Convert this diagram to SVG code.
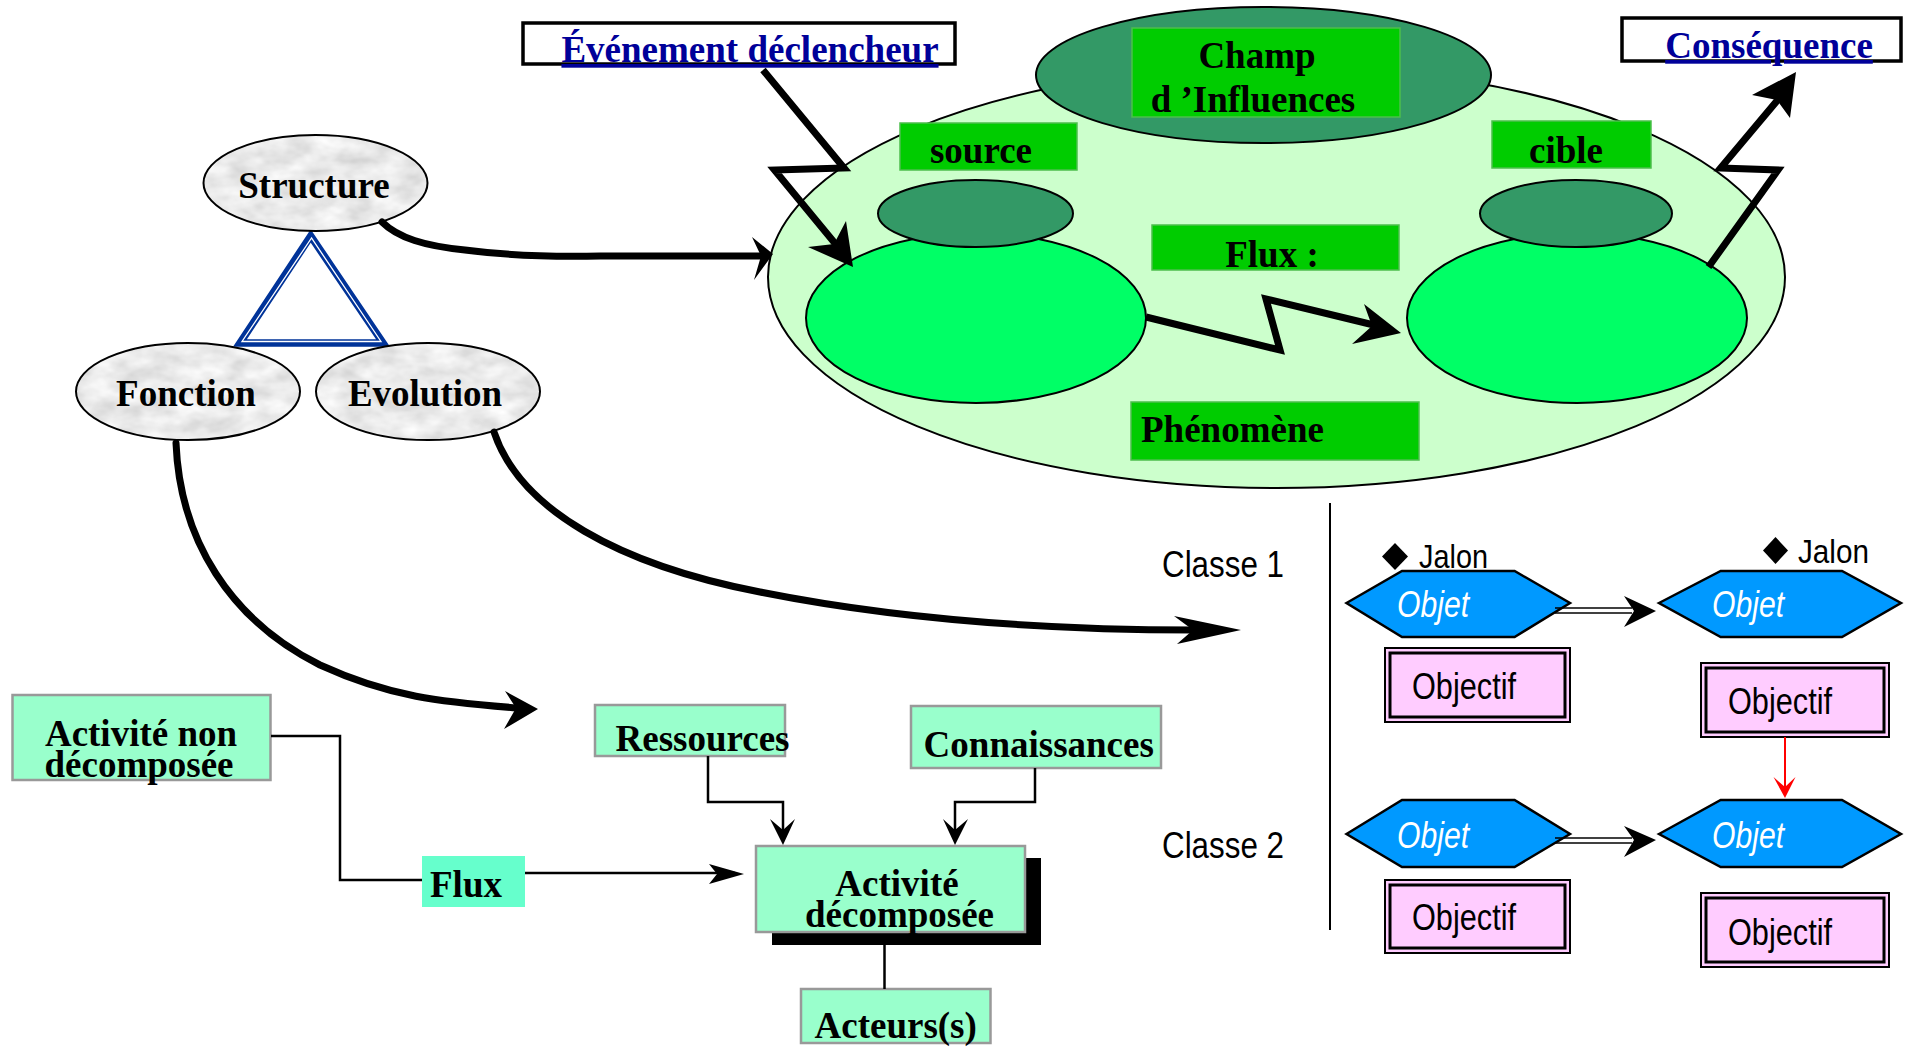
<svg xmlns="http://www.w3.org/2000/svg" width="1905" height="1047" viewBox="0 0 1905 1047">
<style>
.tb{font-family:"Liberation Serif","Times New Roman",serif;font-weight:bold;font-size:37px;fill:#000}
.tn{font-family:"Liberation Serif","Times New Roman",serif;font-weight:bold;font-size:37px;fill:#000099;text-decoration:underline}
.ts{font-family:"Liberation Sans",Arial,sans-serif;font-size:36px;fill:#000}
.tj{font-family:"Liberation Sans",Arial,sans-serif;font-size:34px;fill:#000}
.obj{font-family:"Liberation Sans",Arial,sans-serif;font-size:36px;font-style:italic;fill:#fff}
.lbl{fill:#00CC00;stroke:#4cbf4c;stroke-width:1.5}
.act{fill:#99FFCC;stroke:#999;stroke-width:2.5}
.thick{fill:none;stroke:#000;stroke-width:7;stroke-linejoin:miter}
.wig{fill:none;stroke:#000;stroke-width:7;stroke-linecap:round}
.thin{fill:none;stroke:#000;stroke-width:2.5}
.hex{fill:#0099FF;stroke:#000;stroke-width:2.5}
.ob{fill:#FFCCFF;stroke:#000;stroke-width:2}
.obi{fill:none;stroke:#000;stroke-width:3}
.gray{fill:#000;filter:url(#marble)}
</style>
<defs>
<filter id="marble" x="0" y="0" width="100%" height="100%">
<feTurbulence type="fractalNoise" baseFrequency="0.035 0.06" numOctaves="3" seed="7" result="n"/>
<feColorMatrix in="n" type="matrix" values="0.45 0 0 0 0.6  0.45 0 0 0 0.6  0.45 0 0 0 0.6  0 0 0 0 1" result="g"/>
<feComposite in="g" in2="SourceGraphic" operator="in"/>
</filter>
</defs>

<g id="champ-field">
<ellipse cx="1276.5" cy="277" rx="508.5" ry="211" fill="#CCFFCC" stroke="#000" stroke-width="2"/>
<ellipse cx="1263.5" cy="75" rx="227.5" ry="68" fill="#339966" stroke="#000" stroke-width="2"/>
</g>
<g id="champ-label">
<rect class="lbl" x="1132" y="28" width="268" height="89"/>
<text class="tb" x="1257" y="68" text-anchor="middle">Champ</text>
<text class="tb" x="1253" y="112" text-anchor="middle">d ’Influences</text>
</g>
<g id="source-node">
<ellipse cx="976" cy="318" rx="170" ry="85" fill="#00FF66" stroke="#000" stroke-width="2"/>
<ellipse cx="975.5" cy="213.5" rx="97.5" ry="33.5" fill="#339966" stroke="#000" stroke-width="2"/>
</g>
<g id="source-label">
<rect class="lbl" x="900" y="123" width="177" height="47"/>
<text class="tb" x="981" y="163" text-anchor="middle">source</text>
</g>
<g id="cible-node">
<ellipse cx="1577" cy="318" rx="170" ry="85" fill="#00FF66" stroke="#000" stroke-width="2"/>
<ellipse cx="1576" cy="213.5" rx="96" ry="33.5" fill="#339966" stroke="#000" stroke-width="2"/>
</g>
<g id="cible-label">
<rect class="lbl" x="1492" y="121" width="159" height="47"/>
<text class="tb" x="1566" y="163" text-anchor="middle">cible</text>
</g>
<g id="flux-label">
<rect class="lbl" x="1152" y="225" width="247" height="45"/>
<text class="tb" x="1272" y="267" text-anchor="middle">Flux :</text>
</g>
<g id="phenomene-label">
<rect class="lbl" x="1131" y="402" width="288" height="58"/>
<text class="tb" x="1141" y="442">Phénomène</text>
</g>
<g id="evenement">
<rect x="523" y="23" width="432" height="41" fill="#fff" stroke="#000" stroke-width="3.5"/>
<text class="tn" x="750" y="62" text-anchor="middle">Événement déclencheur</text>
</g>
<g id="consequence">
<rect x="1622" y="18" width="279" height="43" fill="#fff" stroke="#000" stroke-width="3.5"/>
<text class="tn" x="1769" y="58" text-anchor="middle">Conséquence</text>
</g>

<g id="triangle">
<polygon points="310.7,236 240,343 383,343" fill="none" stroke="#003399" stroke-width="7.5" stroke-linejoin="miter"/>
<polygon points="311.5,238 242,341.5 381,341.5" fill="none" stroke="#fff" stroke-width="1.3"/>
</g>

<g id="structure">
<ellipse class="gray" cx="315.5" cy="183" rx="112" ry="48"/>
<ellipse cx="315.5" cy="183" rx="112" ry="48" fill="none" stroke="#000" stroke-width="2"/>
<text class="tb" x="314" y="198" text-anchor="middle">Structure</text>
</g>
<g id="fonction">
<ellipse class="gray" cx="188" cy="391.5" rx="112" ry="48.5"/>
<ellipse cx="188" cy="391.5" rx="112" ry="48.5" fill="none" stroke="#000" stroke-width="2"/>
<text class="tb" x="186" y="406" text-anchor="middle">Fonction</text>
</g>
<g id="evolution">
<ellipse class="gray" cx="428" cy="391.5" rx="112" ry="48.5"/>
<ellipse cx="428" cy="391.5" rx="112" ry="48.5" fill="none" stroke="#000" stroke-width="2"/>
<text class="tb" x="425" y="406" text-anchor="middle">Evolution</text>
</g>

<g id="activite-non">
<rect class="act" x="12.5" y="695" width="258" height="85"/>
<text class="tb" x="141" y="746" text-anchor="middle">Activité non</text>
<text class="tb" x="139" y="777" text-anchor="middle">décomposée</text>
</g>
<g id="flux-box">
<rect x="422" y="856" width="103" height="51" fill="#66FFCC"/>
<text class="tb" x="430" y="897">Flux</text>
</g>
<g id="ressources">
<rect class="act" x="595" y="705" width="190" height="51"/>
<text class="tb" x="615.5" y="751">Ressources</text>
</g>
<g id="connaissances">
<rect class="act" x="911" y="706" width="250" height="62"/>
<text class="tb" x="923.6" y="757">Connaissances</text>
</g>
<g id="activite-decomposee">
<rect x="772" y="858" width="269" height="87" fill="#000"/>
<rect class="act" x="756" y="846" width="269" height="86"/>
<text class="tb" x="897" y="896" text-anchor="middle">Activité</text>
<text class="tb" x="899.5" y="927" text-anchor="middle">décomposée</text>
</g>
<g id="acteurs">
<rect class="act" x="801" y="989" width="189.5" height="54"/>
<text class="tb" x="814.5" y="1038">Acteurs(s)</text>
</g>

<g id="classes">
<line x1="1330" y1="503" x2="1330" y2="930" stroke="#000" stroke-width="2"/>
<text class="ts" x="1162" y="577" textLength="122" lengthAdjust="spacingAndGlyphs">Classe 1</text>
<text class="ts" x="1162" y="858" textLength="122" lengthAdjust="spacingAndGlyphs">Classe 2</text>
</g>
<g id="jalon1">
<polygon points="1395,543 1408,556.5 1395,570 1382,556.5" fill="#000"/>
<text class="tj" x="1419" y="568" textLength="69" lengthAdjust="spacingAndGlyphs">Jalon</text>
</g>
<g id="jalon2">
<polygon points="1775.5,537 1788,550.5 1775.5,564 1763,550.5" fill="#000"/>
<text class="tj" x="1798" y="563" textLength="71" lengthAdjust="spacingAndGlyphs">Jalon</text>
</g>
<g id="objet-1a">
<polygon class="hex" points="1346.5,603 1402,571 1514.6,571 1570,603 1514.6,637 1402,637"/>
<text class="obj" x="1397" y="617" textLength="72" lengthAdjust="spacingAndGlyphs">Objet</text>
</g>
<g id="objet-1b">
<polygon class="hex" points="1659,603 1720.7,571 1842,571 1901,603 1842,637 1720.7,637"/>
<text class="obj" x="1712" y="617" textLength="72" lengthAdjust="spacingAndGlyphs">Objet</text>
</g>
<g id="objet-2a">
<polygon class="hex" points="1346.5,834 1402,800 1514.6,800 1570,834 1514.6,867 1402,867"/>
<text class="obj" x="1397" y="848" textLength="72" lengthAdjust="spacingAndGlyphs">Objet</text>
</g>
<g id="objet-2b">
<polygon class="hex" points="1659,834 1720.7,800 1842,800 1901,834 1842,867 1720.7,867"/>
<text class="obj" x="1712" y="848" textLength="72" lengthAdjust="spacingAndGlyphs">Objet</text>
</g>
<g id="objectif-1a">
<rect class="ob" x="1385" y="648" width="185" height="74"/>
<rect class="obi" x="1390" y="653" width="175" height="64"/>
<text class="ts" x="1412" y="699" textLength="104" lengthAdjust="spacingAndGlyphs">Objectif</text>
</g>
<g id="objectif-1b">
<rect class="ob" x="1701" y="663" width="188" height="74"/>
<rect class="obi" x="1706" y="668" width="178" height="64"/>
<text class="ts" x="1728" y="714" textLength="104" lengthAdjust="spacingAndGlyphs">Objectif</text>
</g>
<g id="objectif-2a">
<rect class="ob" x="1385" y="880" width="185" height="73"/>
<rect class="obi" x="1390" y="885" width="175" height="63"/>
<text class="ts" x="1412" y="930" textLength="104" lengthAdjust="spacingAndGlyphs">Objectif</text>
</g>
<g id="objectif-2b">
<rect class="ob" x="1701" y="893" width="188" height="74"/>
<rect class="obi" x="1706" y="898" width="178" height="64"/>
<text class="ts" x="1728" y="945" textLength="104" lengthAdjust="spacingAndGlyphs">Objectif</text>
</g>

<g id="connectors">
<path class="wig" d="M382,222 C398,238 425,246 465,250 C510,256 550,257 600,256 L760,256"/>
<path d="M773,254 L752,237 L761,256 L754,280 Z" fill="#000"/>
<path class="wig" d="M494,432 C520,510 620,565 760,592 C900,620 1050,630 1195,630"/>
<path d="M1241,630 L1174,616 L1193,630 L1177,644 Z" fill="#000"/>
<path class="wig" d="M176,443 C180,540 230,620 320,665 C390,697 440,702 518,708"/>
<path d="M538,709 L505,691 L516,708 L504,729 Z" fill="#000"/>
<polyline class="thick" points="763,70 844,168 774.5,170 838,247"/>
<path d="M853,267 L808,247 L834,244 L846,221 Z" fill="#000"/>
<polyline class="thick" points="1146,317 1280,350 1266,299 1378,326"/>
<path d="M1401,333 L1364,304 L1372,326 L1352,344 Z" fill="#000"/>
<polyline class="thick" points="1708.5,267 1778,170 1720.6,168 1781,96"/>
<path d="M1796,72 L1752,95 L1777,100 L1790,118 Z" fill="#000"/>
<polyline class="thin" points="271,736 340,736 340,880 422,880"/>
<line class="thin" x1="525" y1="873" x2="735" y2="873"/>
<path d="M744,874 L709,864 L717,874 L709,884 Z" fill="#000"/>
<polyline class="thin" points="708,756 708,802 783,802 783,836"/>
<path d="M783,845 L770,819 L783,830 L795,819 Z" fill="#000"/>
<polyline class="thin" points="1035,768 1035,802 955,802 955,836"/>
<path d="M955,845 L943,819 L955,830 L968,819 Z" fill="#000"/>
<line class="thin" x1="884.5" y1="945" x2="884.5" y2="989"/>
<line x1="1555" y1="608" x2="1632" y2="608" stroke="#000" stroke-width="1.6"/>
<line x1="1555" y1="613" x2="1632" y2="613" stroke="#000" stroke-width="1.6"/>
<path d="M1656,611 L1624,596 L1634,611 L1624,627 Z" fill="#000"/>
<line x1="1555" y1="838" x2="1632" y2="838" stroke="#000" stroke-width="1.6"/>
<line x1="1555" y1="843" x2="1632" y2="843" stroke="#000" stroke-width="1.6"/>
<path d="M1656,840 L1624,826 L1634,840 L1624,857 Z" fill="#000"/>
<line x1="1785" y1="737" x2="1785" y2="788" stroke="#FF0000" stroke-width="2"/>
<path d="M1785,798 L1773.5,777 L1785,787 L1795.5,777 Z" fill="#FF0000"/>
</g>
</svg>
